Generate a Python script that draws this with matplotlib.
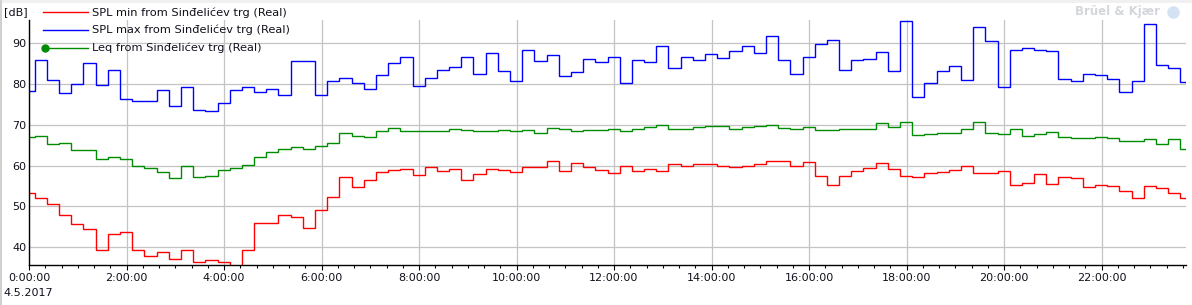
import numpy as np
import matplotlib
matplotlib.use("Agg")
import matplotlib.pyplot as plt
from matplotlib.lines import Line2D
from matplotlib.patches import Rectangle
from matplotlib.ticker import FixedLocator, MultipleLocator, FuncFormatter

W, H = 1192, 305

# 15 minute intervals, first interval boundary at 0:07
first_edge_min = 7
interval_min = 15

spl_min = [53.25, 52.1, 50.5, 47.8, 45.7, 44.3, 39.2, 43.1, 43.6, 39.2,
           37.8, 38.7, 37.0, 39.2, 36.2, 36.7, 36.4, 34.0, 39.2, 45.8,
           45.8, 47.8, 47.4, 44.6, 49.0, 52.3, 57.2, 54.7, 56.5, 58.5,
           59.0, 59.25, 57.75, 59.75, 58.75, 59.25, 56.5, 58.0, 59.25, 59.0,
           58.5, 59.75, 59.75, 61.2, 58.75, 60.5, 59.75, 59.0, 58.25, 60.0,
           58.75, 59.25, 58.75, 60.25, 60.0, 60.25, 60.25, 60.0, 59.75, 60.0,
           60.25, 61.0, 61.0, 60.0, 60.75, 57.5, 55.25, 57.5, 58.75, 59.5,
           60.5, 59.25, 57.5, 57.25, 58.25, 58.5, 59.0, 60.0, 58.25, 58.25,
           58.75, 55.25, 55.75, 58.0, 55.5, 57.25, 57.0, 54.75, 55.25, 55.0,
           53.75, 52.0, 55.0, 54.5, 53.25, 52.0]

spl_max = [78.3, 85.9, 81.0, 77.8, 80.0, 85.1, 79.8, 83.4, 76.3, 75.8,
           75.8, 78.5, 74.7, 79.3, 73.7, 73.4, 75.4, 78.5, 79.3, 78.0,
           78.9, 77.3, 85.6, 85.6, 77.3, 80.7, 81.5, 80.2, 78.8, 82.2,
           85.1, 86.6, 79.5, 81.5, 83.4, 84.1, 86.6, 82.4, 87.6, 83.2,
           80.7, 88.3, 85.6, 87.1, 81.9, 82.9, 86.1, 85.4, 86.6, 80.2,
           85.9, 85.4, 89.3, 83.9, 86.6, 85.9, 87.3, 86.3, 88.0, 89.3,
           87.6, 91.7, 85.9, 82.4, 86.6, 89.8, 90.7, 83.4, 85.9, 86.1,
           87.8, 83.2, 95.4, 76.8, 80.2, 83.2, 84.4, 81.0, 94.1, 90.5,
           79.3, 88.3, 88.8, 88.3, 88.0, 81.2, 80.7, 82.4, 82.2, 81.2,
           78.0, 80.7, 94.7, 84.6, 83.9, 80.5]

leq = [67.1, 67.3, 65.4, 65.6, 63.7, 63.9, 61.5, 62.0, 61.5, 60.0,
       59.3, 58.3, 57.0, 59.8, 57.2, 57.5, 59.0, 59.3, 60.2, 62.2,
       63.2, 64.1, 64.6, 64.1, 64.9, 65.6, 68.0, 67.3, 67.1, 68.5,
       69.2, 68.5, 68.5, 68.5, 68.5, 69.0, 68.8, 68.5, 68.5, 68.8,
       68.5, 68.8, 68.1, 69.3, 69.0, 68.5, 68.8, 68.8, 69.0, 68.5,
       69.0, 69.5, 70.0, 69.0, 69.0, 69.5, 69.8, 69.8, 69.0, 69.5,
       69.8, 70.0, 69.3, 69.0, 69.5, 68.8, 68.8, 69.0, 69.0, 69.0,
       70.5, 69.5, 70.7, 67.6, 67.8, 68.1, 68.1, 69.0, 70.7, 68.1,
       67.8, 69.0, 67.3, 67.8, 68.3, 67.1, 66.8, 66.8, 67.1, 66.8,
       65.9, 66.1, 66.6, 65.4, 66.4, 64.1]

labels = ["SPL min from Sinđelićev trg (Real)",
          "SPL max from Sinđelićev trg (Real)",
          "Leq from Sinđelićev trg (Real)"]
colors = ["#ff0000", "#0000ff", "#008c00"]
date_label = "4.5.2017"
y_ticks = [40, 50, 60, 70, 80, 90]
x_ticks = list(range(0, 24, 2))

plt.rcParams['font.family'] = ['DejaVu Sans']
txt_col = "#10101c"
fs = 8


def px(x, y):
    # pixel position (from top left) -> figure fraction
    return x / W, 1 - y / H


fig = plt.figure(figsize=(W / 100, H / 100), dpi=100)

# window frame bits
fig.add_artist(Rectangle((0, 1 - 3 / H), 1, 3 / H, transform=fig.transFigure,
                         color="#f0f0f0", lw=0))
fig.add_artist(Rectangle((0, 0), 2 / W, 1, transform=fig.transFigure,
                         color="#d0d0d0", lw=0))

ax = fig.add_axes([29 / W, 40 / H, 1157 / W, 245 / H])

n = len(spl_min)
edges_h = (first_edge_min - interval_min + interval_min * np.arange(n + 1)) / 60.0

for vals, col in zip([spl_min, spl_max, leq], colors):
    ax.stairs(vals, edges_h, baseline=None, color=col, lw=1.0)

ax.set_xlim(0, 23.733)
ax.set_ylim(35.58, 95.72)

ax.xaxis.set_major_locator(FixedLocator(x_ticks))
ax.xaxis.set_minor_locator(MultipleLocator(1 / 3))
ax.xaxis.set_major_formatter(FuncFormatter(lambda v, p: "%d:00:00" % int(round(v))))
ax.yaxis.set_major_locator(FixedLocator(y_ticks))

ax.grid(True, which="major", color="#c4c4c4", lw=0.9)
ax.set_axisbelow(True)
for s in ["top", "right"]:
    ax.spines[s].set_visible(False)
for s in ["left", "bottom"]:
    ax.spines[s].set_color("black")
    ax.spines[s].set_linewidth(1.0)

ax.tick_params(axis="x", which="major", direction="out", length=3.6, width=0.8,
               pad=2.5, labelsize=fs, labelcolor=txt_col)
ax.tick_params(axis="x", which="minor", direction="out", length=2.2, width=0.8)
ax.tick_params(axis="y", length=0, pad=2, labelsize=fs, labelcolor=txt_col)

# unit and date
fig.text(*px(4, 12), "[dB]", fontsize=fs, color=txt_col, va="center", ha="left")
fig.text(*px(3, 293), date_label, fontsize=fs, color=txt_col, va="center", ha="left")

# legend drawn by hand
for i, (lab, col) in enumerate(zip(labels, colors)):
    yy = 12.3 + 17.6 * i
    x0, y0 = px(43, yy)
    x1, _ = px(88, yy)
    fig.add_artist(Line2D([x0, x1], [y0, y0], transform=fig.transFigure,
                          color=col, lw=1.0))
    if i == 2:
        fig.add_artist(Line2D([px(45, yy)[0]], [y0], transform=fig.transFigure,
                              color=col, marker="o", markersize=5, lw=0))
    fig.text(*px(92, yy), lab, fontsize=8.2, color=txt_col, va="center", ha="left")

# watermark
fig.text(*px(1160, 12), "Brüel & Kjær", fontsize=8.5, fontweight="bold",
         color="#d3d7dc", va="center", ha="right")
cx, cy = px(1173, 12)
fig.add_artist(Line2D([cx], [cy], transform=fig.transFigure, marker="o",
                      markersize=8, color="#d4e2f4", lw=0))

fig.savefig("out.png", dpi=100)
